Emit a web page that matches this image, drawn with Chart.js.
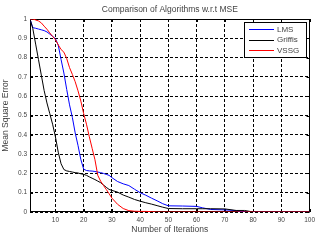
<!DOCTYPE html>
<html>
<head>
<meta charset="utf-8">
<script src="https://cdn.jsdelivr.net/npm/chart.js@4/dist/chart.umd.min.js"></script>
<style>
  html, body { margin: 0; padding: 0; background: #fff; }
  canvas { display: block; }
</style>
</head>
<body>
<canvas id="mseChart" width="319" height="240"></canvas>
<script>
// values
var iterations = [1, 2, 3, 4, 5, 6, 7, 8, 9, 10,
  11, 12, 13, 14, 15, 16, 17, 18, 19, 20,
  21, 22, 23, 24, 25, 26, 27, 28, 29, 30,
  32, 34, 36, 38, 40, 42, 44, 46, 48, 50,
  55, 60, 62, 65, 70, 74, 77, 80, 90, 100];

var lmsMse = [1.0, 0.955, 0.952, 0.948, 0.944, 0.94, 0.933, 0.922, 0.91, 0.898,
  0.865, 0.79, 0.72, 0.635, 0.555, 0.49, 0.41, 0.345, 0.272, 0.222,
  0.215, 0.213, 0.212, 0.21, 0.207, 0.204, 0.2, 0.195, 0.19, 0.178,
  0.158, 0.146, 0.137, 0.118, 0.1, 0.087, 0.072, 0.058, 0.043, 0.032,
  0.031, 0.029, 0.022, 0.013, 0.011, 0.007, 0, 0, 0, 0];

var griffisMse = [1.0, 0.95, 0.87, 0.79, 0.71, 0.63, 0.565, 0.51, 0.455, 0.39,
  0.31, 0.25, 0.22, 0.213, 0.21, 0.207, 0.204, 0.202, 0.198, 0.195,
  0.19, 0.182, 0.175, 0.168, 0.16, 0.152, 0.14, 0.128, 0.117, 0.112,
  0.103, 0.088, 0.077, 0.065, 0.056, 0.048, 0.041, 0.033, 0.025, 0.018,
  0.017, 0.017, 0.017, 0.017, 0.016, 0.008, 0.008, 0, 0, 0];

var vssgMse = [1.0, 1.0, 0.995, 0.99, 0.98, 0.963, 0.947, 0.928, 0.91, 0.893,
  0.866, 0.842, 0.828, 0.795, 0.748, 0.713, 0.675, 0.628, 0.575, 0.51,
  0.455, 0.39, 0.33, 0.271, 0.19, 0.16, 0.138, 0.117, 0.095, 0.072,
  0.04, 0.018, 0.007, 0.004, 0.003, 0.003, 0.002, 0, 0, 0,
  0, 0, 0, 0, 0, 0, 0, 0, 0, 0];

var xTicks = [10, 20, 30, 40, 50, 60, 70, 80, 90, 100];
var seriesNames = ['LMS', 'Griffis', 'VSSG'];
var seriesColors = ['#0000ff', '#000000', '#ff0000'];

var chartTitle = 'Comparison of Algorithms w.r.t MSE';
var fontFamily = '"Liberation Sans", Arial, Helvetica, sans-serif';
var textColor = '#444';

function toPoints(values) {
  return iterations.map(function (it, i) { return { x: it, y: values[i] }; });
}

// matlab style frame, inward ticks, title and boxed legend
var matlabBits = {
  id: 'matlabBits',
  beforeDatasetsDraw: function (chart) {
    var ctx = chart.ctx;
    var a = chart.chartArea;
    var xs = chart.scales.x, ys = chart.scales.y;
    ctx.save();
    ctx.strokeStyle = '#000';
    ctx.lineWidth = 1;
    ctx.setLineDash([]);
    ctx.strokeRect(Math.round(a.left) + 0.5, Math.round(a.top) + 0.5,
      Math.round(a.right - a.left) - 1, Math.round(a.bottom - a.top) - 1);
    ctx.beginPath();
    xs.ticks.forEach(function (t) {
      var px = Math.round(xs.getPixelForValue(t.value)) + 0.5;
      ctx.moveTo(px, a.bottom); ctx.lineTo(px, a.bottom - 3);
      ctx.moveTo(px, a.top); ctx.lineTo(px, a.top + 3);
    });
    ys.ticks.forEach(function (t) {
      var py = Math.round(ys.getPixelForValue(t.value)) + 0.5;
      ctx.moveTo(a.left, py); ctx.lineTo(a.left + 3, py);
      ctx.moveTo(a.right, py); ctx.lineTo(a.right - 3, py);
    });
    ctx.stroke();
    ctx.restore();
  },
  afterDraw: function (chart) {
    var ctx = chart.ctx;
    var a = chart.chartArea;
    ctx.save();
    // title
    ctx.fillStyle = textColor;
    ctx.font = '8.5px ' + fontFamily;
    ctx.textAlign = 'center';
    ctx.textBaseline = 'middle';
    ctx.fillText(chartTitle, (a.left + a.right) / 2, 9.5);

    // legend box, upper right inside the axes
    var boxW = 62, boxH = 35;
    var bx = Math.round(a.right) - 4 - boxW;
    var by = Math.round(a.top) + 3;
    ctx.fillStyle = '#fff';
    ctx.fillRect(bx, by, boxW, boxH);
    ctx.strokeStyle = '#000';
    ctx.lineWidth = 1;
    ctx.strokeRect(bx + 0.5, by + 0.5, boxW, boxH);
    ctx.font = '8px ' + fontFamily;
    ctx.textAlign = 'left';
    chart.data.datasets.forEach(function (ds, i) {
      var ly = by + 7 + i * 10.5;
      ctx.strokeStyle = ds.borderColor;
      ctx.beginPath();
      ctx.moveTo(bx + 5, Math.round(ly) + 0.5);
      ctx.lineTo(bx + 30, Math.round(ly) + 0.5);
      ctx.stroke();
      ctx.fillStyle = textColor;
      ctx.fillText(ds.label, bx + 33, ly + 0.5);
    });
    ctx.restore();
  }
};

var datasets = [lmsMse, griffisMse, vssgMse].map(function (vals, i) {
  return {
    label: seriesNames[i],
    data: toPoints(vals),
    borderColor: seriesColors[i],
    backgroundColor: seriesColors[i],
    borderWidth: 1,
    pointRadius: 0,
    tension: 0,
    fill: false,
    // later series on top, like matlab
    order: 2 - i
  };
});

var chart = new Chart(document.getElementById('mseChart'), {
  type: 'line',
  data: { datasets: datasets },
  options: {
    responsive: false,
    animation: false,
    devicePixelRatio: 1,
    layout: { padding: { top: 19, right: 8, bottom: 0, left: 0 } },
    plugins: {
      legend: { display: false },
      title: { display: false },
      tooltip: { enabled: false }
    },
    scales: {
      x: {
        type: 'linear',
        min: 1,
        max: 100,
        afterBuildTicks: function (s) {
          s.ticks = xTicks.map(function (v) { return { value: v }; });
        },
        afterFit: function (s) { s.height = 28; },
        ticks: {
          autoSkip: false,
          maxRotation: 0,
          padding: 4,
          color: textColor,
          font: { family: fontFamily, size: 6.5 }
        },
        grid: { color: '#000', lineWidth: 1, drawTicks: false },
        border: { display: false, dash: [3, 2] },
        title: {
          display: true,
          text: 'Number of Iterations',
          color: textColor,
          font: { family: fontFamily, size: 8.5 },
          padding: { top: 0, bottom: 5 }
        }
      },
      y: {
        min: 0,
        max: 1,
        afterFit: function (s) { s.width = 30; },
        ticks: {
          stepSize: 0.1,
          padding: 3,
          color: textColor,
          font: { family: fontFamily, size: 6.5 },
          callback: function (v) { return String(+v.toFixed(1)); }
        },
        grid: { color: '#000', lineWidth: 1, drawTicks: false },
        border: { display: false, dash: [3, 2] },
        title: {
          display: true,
          text: 'Mean Square Error',
          color: textColor,
          font: { family: fontFamily, size: 8.5 },
          padding: { top: 1, bottom: 0 }
        }
      }
    }
  },
  plugins: [matlabBits]
});
</script>
</body>
</html>
